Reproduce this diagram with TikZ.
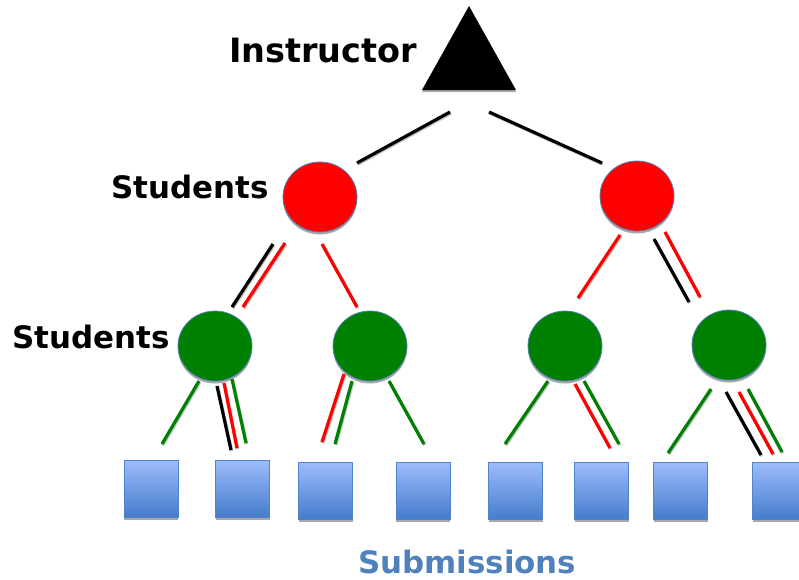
\documentclass[tikz,border=0pt]{standalone}
\usepackage{fontspec}
\setmainfont{DejaVu Sans}
\usetikzlibrary{shapes.geometric}
\definecolor{nodegreen}{HTML}{008000}
\definecolor{nodered}{HTML}{FF0000}
\definecolor{nodeedge}{HTML}{4F81BD}
\definecolor{boxtop}{HTML}{9DBCFC}
\definecolor{boxbot}{HTML}{457CCB}
\definecolor{boxedge}{HTML}{4F84CB}
\definecolor{subblue}{HTML}{4F81BD}
\definecolor{shadowgray}{HTML}{A8A8A8}
\begin{document}
\begin{tikzpicture}[x=1pt,y=-1pt,
  lbl/.style={anchor=base west,inner sep=0pt,font=\bfseries},
  stud/.style={ellipse,minimum width=74pt,minimum height=70pt,inner sep=0pt,draw=nodeedge,line width=0.8pt},
  studshadow/.style={ellipse,minimum width=74pt,minimum height=70pt,inner sep=0pt,fill=shadowgray},
  box/.style={rectangle,minimum width=54pt,minimum height=57pt,inner sep=0pt,draw=boxedge,line width=1pt,top color=boxtop,bottom color=boxbot},
  boxshadow/.style={rectangle,minimum width=54pt,minimum height=57pt,inner sep=0pt,fill=shadowgray},
  seg/.style={line width=3.2pt},
  segshadow/.style={line width=3.2pt,draw=shadowgray!70}
]
\useasboundingbox (0,0) rectangle (799,579);

% ---- labels
\node[lbl,font=\bfseries\fontsize{33.5}{40}\selectfont] (tInstr) at (229,62) {Instructor};
\node[lbl,font=\bfseries\fontsize{30.9}{36}\selectfont] (tStud1) at (111,198) {Students};
\node[lbl,font=\bfseries\fontsize{30.9}{36}\selectfont] (tStud2) at (12,348) {Students};
\node[lbl,font=\bfseries\fontsize{30.9}{36}\selectfont,text=subblue] (tSub) at (358,573) {Submissions};

% ---- instructor triangle
\coordinate (tA) at (469,6);
\coordinate (tB) at (422,90);
\coordinate (tC) at (516,90);
\fill[shadowgray] ([shift={(0,2)}]tA) -- ([shift={(0,2)}]tB) -- ([shift={(0,2)}]tC) -- cycle;
\fill[black] (tA) -- (tB) -- (tC) -- cycle;

% ---- student nodes
\foreach \n/\x/\y in {R1/320/197,R2/637/196,G1/215/346,G2/370/346,G3/565/346,G4/729/345}{
  \node[studshadow] at (\x,\y+2.5) {};
}
\node[stud,fill=nodered] (R1) at (320,197) {};
\node[stud,fill=nodered] (R2) at (637,196) {};
\node[stud,fill=nodegreen] (G1) at (215,346) {};
\node[stud,fill=nodegreen] (G2) at (370,346) {};
\node[stud,fill=nodegreen] (G3) at (565,346) {};
\node[stud,fill=nodegreen] (G4) at (729,345) {};

% ---- submission boxes
\foreach \x/\y in {151/488.5,242.5/488.5,325.5/490.5,423/490.5,515.5/491,601.5/491,680.5/491,779.5/491}{
  \node[boxshadow] at (\x,\y+2.5) {};
}
\node[box] (B1) at (151,488.5) {};
\node[box] (B2) at (242.5,488.5) {};
\node[box] (B3) at (325.5,490.5) {};
\node[box] (B4) at (423,490.5) {};
\node[box] (B5) at (515.5,491) {};
\node[box] (B6) at (601.5,491) {};
\node[box] (B7) at (680.5,491) {};
\node[box] (B8) at (779.5,491) {};

% ---- connector end points
\foreach \n/\x/\y/\m/\u/\v/\c in {
  a/450/112/b/357/163/black,
  c/489/112/d/602/163/black,
  e/273/244/f/232/307/black,
  g/285/243/h/243/307/nodered,
  i/322/244/j/357/307/nodered,
  k/620/235/l/578/298/nodered,
  m/654/239/n/689/302/black,
  o/665/232/p/700/297/nodered,
  q/199/381/r/162/444/nodegreen,
  s/217/386/t/231/450/black,
  u/224/383/v/237/448/nodered,
  w/232/379/z/246/443/nodegreen,
  aa/344/374/ab/322/442/nodered,
  ac/352/381/ad/335/444/nodegreen,
  ae/389/381/af/424/444/nodegreen,
  ag/548/381/ah/505/444/nodegreen,
  ai/575/384/aj/610/448/nodered,
  ak/584/381/al/619/444/nodegreen,
  am/711/389/an/668/453/nodegreen,
  ao/726/392/ap/761/455/black,
  aq/739/392/ar/773/454/nodered,
  as/748/389/at/782/452/nodegreen}{
  \coordinate (p\n) at (\x,\y);
  \coordinate (p\m) at (\u,\v);
  \draw[segshadow] ([shift={(0.8,1.2)}]p\n) -- ([shift={(0.8,1.2)}]p\m);
  \draw[seg,draw=\c] (p\n) -- (p\m);
}
\end{tikzpicture}
\end{document}
